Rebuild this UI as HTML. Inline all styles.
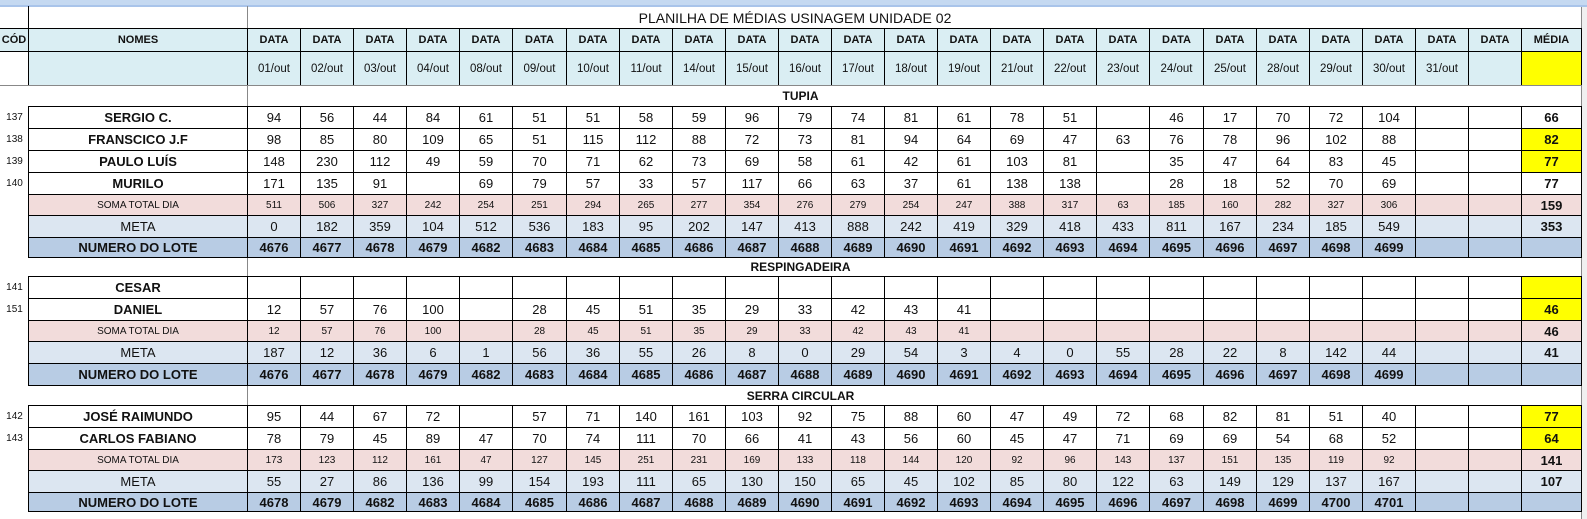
<!DOCTYPE html>
<html><head><meta charset="utf-8">
<style>
body{margin:0;width:1587px;height:519px;overflow:hidden;background:#fff;font-family:"Liberation Sans",sans-serif;position:relative}
.c{position:absolute;box-sizing:border-box;display:flex;align-items:center;justify-content:center;font-size:12.5px;color:#111;white-space:nowrap;overflow:hidden}
.b{border:1px solid #000}
.bold{font-weight:bold}
</style></head><body>
<div style="position:absolute;left:0;top:0;width:1587px;height:5px;background:#c5d9f1;border-bottom:2px solid #a9c4ea"></div>
<div style="position:absolute;left:1581px;top:7px;width:6px;height:512px;background:#f0f0f0;border-left:1px solid #888"></div>
<div class="c" style="left:595px;top:7px;width:400px;height:21px;font-size:14px">PLANILHA DE MÉDIAS USINAGEM UNIDADE 02</div>
<div id="g"></div>
<script>
const dates=["01/out","02/out","03/out","04/out","08/out","09/out","10/out","11/out","14/out","15/out","16/out","17/out","18/out","19/out","21/out","22/out","23/out","24/out","25/out","28/out","29/out","30/out","31/out",""];
const tupiaNames=["SERGIO C.","FRANSCICO J.F","PAULO LUÍS","MURILO"];
const tupiaCodes=["137","138","139","140"];
const tupiaVals=[
[94,56,44,84,61,51,51,58,59,96,79,74,81,61,78,51,"",46,17,70,72,104],
[98,85,80,109,65,51,115,112,88,72,73,81,94,64,69,47,63,76,78,96,102,88],
[148,230,112,49,59,70,71,62,73,69,58,61,42,61,103,81,"",35,47,64,83,45],
[171,135,91,"",69,79,57,33,57,117,66,63,37,61,138,138,"",28,18,52,70,69]];
const tupiaMedia=["66","82","77","77"];
const tupiaYellow=[false,true,true,false];
const tupiaSoma=[511,506,327,242,254,251,294,265,277,354,276,279,254,247,388,317,63,185,160,282,327,306];
const tupiaMeta=[0,182,359,104,512,536,183,95,202,147,413,888,242,419,329,418,433,811,167,234,185,549];
const tupiaLote=[4676,4677,4678,4679,4682,4683,4684,4685,4686,4687,4688,4689,4690,4691,4692,4693,4694,4695,4696,4697,4698,4699];
const tupiaSummary=["159","353",""];
const respNames=["CESAR","DANIEL"];
const respCodes=["141","151"];
const respVals=[[],[12,57,76,100,"",28,45,51,35,29,33,42,43,41]];
const respMedia=["","46"];
const respYellow=[true,true];
const respSoma=[12,57,76,100,"",28,45,51,35,29,33,42,43,41];
const respMeta=[187,12,36,6,1,56,36,55,26,8,0,29,54,3,4,0,55,28,22,8,142,44];
const respLote=[4676,4677,4678,4679,4682,4683,4684,4685,4686,4687,4688,4689,4690,4691,4692,4693,4694,4695,4696,4697,4698,4699];
const respSummary=["46","41",""];
const serraNames=["JOSÉ RAIMUNDO","CARLOS FABIANO"];
const serraCodes=["142","143"];
const serraVals=[
[95,44,67,72,"",57,71,140,161,103,92,75,88,60,47,49,72,68,82,81,51,40],
[78,79,45,89,47,70,74,111,70,66,41,43,56,60,45,47,71,69,69,54,68,52]];
const serraMedia=["77","64"];
const serraYellow=[true,true];
const serraSoma=[173,123,112,161,47,127,145,251,231,169,133,118,144,120,92,96,143,137,151,135,119,92];
const serraMeta=[55,27,86,136,99,154,193,111,65,130,150,65,45,102,85,80,122,63,149,129,137,167];
const serraLote=[4678,4679,4682,4683,4684,4685,4686,4687,4688,4689,4690,4691,4692,4693,4694,4695,4696,4697,4698,4699,4700,4701];
const serraSummary=["141","107",""];

const G=document.getElementById('g');
const X0=247,CW=(1521-247)/24,MX=1521,MW=60;
function cell(x,y,w,h,txt,cls,bg,fs,name){
  const d=document.createElement('div');
  d.className='c '+(cls||'');
  d.style.left=x+'px';d.style.top=y+'px';d.style.width=(w+1)+'px';d.style.height=(h+1)+'px';
  if(bg)d.style.background=bg;
  if(fs)d.style.fontSize=fs+'px';
  d.textContent=txt;
  
  
  G.appendChild(d);return d;
}
function cx(i){return Math.round(X0+CW*i);}
function cw(i){return Math.round(X0+CW*(i+1))-cx(i);}
cell(28,6,0,22,'','',null,null,'title-divider').style.borderLeft='1px solid #000';
cell(247,6,0,505,'','',null,null,'names-divider').style.borderLeft='1px solid #888';
const hb='#daeef3';
const ch=cell(0,28,28,23,'CÓD','b bold',hb,11,'cod-header');
ch.style.borderLeft='none';
cell(0,51,28,34,'','',null,null,'cod-blank');
cell(28,28,219,23,'NOMES','b bold',hb,11,'names-header');
cell(28,51,219,34,'','b',hb,null,'names-subheader');
for(let i=0;i<24;i++){
  cell(cx(i),28,cw(i),23,'DATA','b bold',hb,11,'date-header');
  cell(cx(i),51,cw(i),34,dates[i],'b',hb,11.5,'date-label');
}
cell(MX,28,MW,23,'MÉDIA','b bold',hb,11,'media-header');
cell(MX,51,MW,34,'','b','#ffff00',null,'media-subheader');

function section(title,y0,hH,names,codes,vals,media,yellow,soma,meta,lote,summ,hs){
  const t=cell(0,y0,1581,hH,'','',null,null,'section-row');
  if(y0===85) t.style.borderTop='1px solid #888';
  cell(700,y0,200,hH,title,'bold',null,12,'section-title');
  let y=y0+hH;const rh=22;
  names.forEach((n,r)=>{
    cell(0,y,28,rh,codes[r],'',null,10,'cod-value');
    cell(28,y,219,rh,n,'b bold',null,13,'name-cell');
    for(let i=0;i<24;i++){
      const v=vals[r][i];
      cell(cx(i),y,cw(i),rh,(v===undefined?'':String(v)),'b',null,13,'value-cell');
    }
    cell(MX,y,MW,rh,media[r],'b bold',yellow[r]?'#ffff00':null,13,'media-cell');
    y+=rh;
  });
  const rows=[['SOMA TOTAL DIA',soma,'#f2dcdb',9.5,'','soma-row'],['META',meta,'#dce6f1',13,'','meta-row'],['NUMERO DO LOTE',lote,'#b8cce4',13,'bold','lote-row']];
  rows.forEach((R,k)=>{
    const h=hs[k];
    cell(28,y,219,h,R[0],'b '+R[4],R[2],k===0?10:13,R[5]+'-label');
    for(let i=0;i<24;i++){
      const v=R[1][i];
      cell(cx(i),y,cw(i),h,(v===undefined?'':String(v)),'b '+R[4],R[2],k===0?10:13,R[5]+'-value');
    }
    cell(MX,y,MW,h,summ[k],'b bold',R[2],13,R[5]+'-media');
    y+=h;
  });
}
section('TUPIA',85,21,tupiaNames,tupiaCodes,tupiaVals,tupiaMedia,tupiaYellow,tupiaSoma,tupiaMeta,tupiaLote,tupiaSummary,[21,22,20]);
section('RESPINGADEIRA',257,19,respNames,respCodes,respVals,respMedia,respYellow,respSoma,respMeta,respLote,respSummary,[21,22,22]);
section('SERRA CIRCULAR',385,20,serraNames,serraCodes,serraVals,serraMedia,serraYellow,serraSoma,serraMeta,serraLote,serraSummary,[21,22,19]);
</script>
</body></html>
